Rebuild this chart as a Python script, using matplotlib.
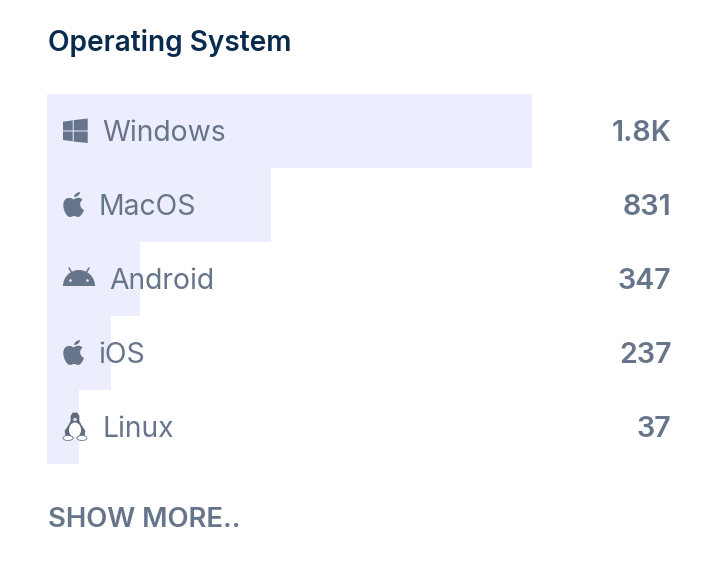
import numpy as np
import matplotlib
matplotlib.use('Agg')
import matplotlib.pyplot as plt
from matplotlib.patches import Polygon, Ellipse, Wedge, Circle, PathPatch
from matplotlib.path import Path

plt.rcParams['font.family'] = ['Inter', 'DejaVu Sans']

names = ['Windows', 'MacOS', 'Android', 'iOS', 'Linux']
values = [1800, 831, 347, 237, 37]
value_labels = ['1.8K', '831', '347', '237', '37']
name_x = [102.5, 98.5, 109.5, 98.5, 102.5]
min_bar = 119  # short bars get a minimum width

BAR = '#ECEEFD'
TEXT = '#66758A'
TITLE = '#0A2A4E'

W, H = 718, 576
fig = plt.figure(figsize=(W / 100, H / 100), dpi=100, facecolor='white')

# bars
ax = fig.add_axes([47 / W, (H - 464) / H, 485 / W, 370 / H])
ax.barh(range(len(values)), [max(v, min_bar) for v in values], height=1.0, color=BAR)
ax.set_xlim(0, 1800)
ax.set_ylim(len(values) - 0.5, -0.5)
ax.axis('off')

# overlay in pixels for text and icons
ov = fig.add_axes([0, 0, 1, 1])
ov.set_xlim(0, W)
ov.set_ylim(H, 0)
ov.axis('off')
ov.patch.set_alpha(0)

ov.text(47.5, 40, 'Operating System', fontsize=20.2, fontweight='semibold', color=TITLE, va='center_baseline')
ov.text(47.5, 517, 'SHOW MORE..', fontsize=19.8, fontweight='semibold', color=TEXT, va='center_baseline')

rows = [131 + 74 * i for i in range(len(names))]
for i, y in enumerate(rows):
    ov.text(name_x[i], y - 0.6, names[i], fontsize=20.4, color=TEXT, va='center_baseline')
    ov.text(671.5, y - 0.6, value_labels[i], fontsize=20.6, fontweight='semibold', color=TEXT, ha='right', va='center_baseline')


def windows_icon(x, y):
    for q in [[(0, -9.3), (9.7, -10.7), (9.7, -0.5), (0, -0.5)],
              [(10.7, -10.9), (24.7, -12.5), (24.7, -0.5), (10.7, -0.5)],
              [(0, 0.5), (9.7, 0.5), (9.7, 10.4), (0, 9)],
              [(10.7, 0.5), (24.7, 0.5), (24.7, 12), (10.7, 10.6)]]:
        ov.add_patch(Polygon([(x + a, y + b) for a, b in q], color=TEXT, lw=0))


def apple_icon(x, y):
    verts = [(10.5, -5.5),
             (8, -8), (0.5, -8.5), (0.3, 0),
             (0.2, 6), (4, 12), (7, 12),
             (9, 12), (9.5, 11), (11, 11),
             (13, 11), (13.5, 12), (15, 12),
             (17.5, 12), (20, 8), (21, 5),
             (17, 3.5), (15.5, -3), (19.5, -5),
             (17.5, -8.5), (13, -7.5), (10.5, -5.5)]
    codes = [Path.MOVETO] + [Path.CURVE4] * 21
    ov.add_patch(PathPatch(Path([(x + a, y + b) for a, b in verts], codes), color=TEXT, lw=0))
    leaf = [(11, -8), (11, -10), (13, -12.5), (17, -13),
            (17, -10), (14, -8), (11, -8)]
    ov.add_patch(PathPatch(Path([(x + a, y + b) for a, b in leaf],
                                [Path.MOVETO] + [Path.CURVE4] * 6), color=TEXT, lw=0))


def android_icon(x, y):
    cx = x + 16
    ov.add_patch(Wedge((cx, y + 7), 16, 180, 360, color=TEXT, lw=0))
    for s in (-1, 1):
        ov.plot([cx + s * 7, cx + s * 10], [y - 6, y - 11], color=TEXT, lw=1.1, solid_capstyle='round')
        ov.add_patch(Circle((cx + s * 8.5, y + 1.5), 1.3, color=BAR, lw=0))


def linux_icon(x, y):
    cx = x + 12
    dark = '#4A5468'
    sil = [(cx - 2, y - 14), (cx + 2, y - 14), (cx + 4, y - 11), (cx + 4, y - 6), (cx + 6, y - 2),
           (cx + 10, y + 4), (cx + 9, y + 10), (cx - 9, y + 10), (cx - 10, y + 4), (cx - 6, y - 2),
           (cx - 4, y - 6), (cx - 4, y - 11)]
    ov.add_patch(Polygon(sil, facecolor=dark, edgecolor=dark, lw=0.5, alpha=0.85))
    ov.add_patch(Ellipse((cx, y + 3), 12, 15, facecolor='white', lw=0))
    ov.add_patch(Ellipse((cx, y - 7.5), 4, 3, facecolor='#D8DCE4', lw=0))
    ov.add_patch(Ellipse((cx - 7, y + 11), 10, 5, facecolor='white', edgecolor='#6B7587', lw=0.6))
    ov.add_patch(Ellipse((cx + 7, y + 11), 10, 5, facecolor='white', edgecolor='#6B7587', lw=0.6))


windows_icon(63, rows[0])
apple_icon(63, rows[1])
android_icon(63, rows[2])
apple_icon(63, rows[3])
linux_icon(63, rows[4])

fig.savefig('out.png', dpi=100)
